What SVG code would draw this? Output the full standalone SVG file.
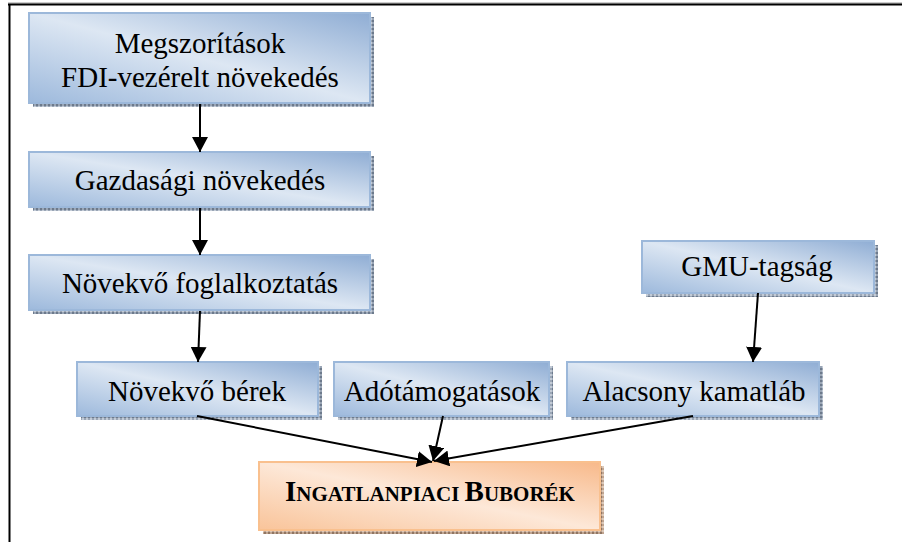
<svg xmlns="http://www.w3.org/2000/svg" width="902" height="542" viewBox="0 0 902 542">
<style>
text{font-family:'Liberation Serif','Times New Roman','DejaVu Serif',serif;fill:#000;text-anchor:middle}
.t{font-size:29px}
.b{font-weight:bold}
.box{fill:url(#gb);stroke:#9cb8da;stroke-width:2}
.obox{fill:url(#go);stroke:#f9c08e;stroke-width:2}
.sh{fill:url(#hb)}
.osh{fill:url(#ho)}
.e{stroke:#000;stroke-width:2;fill:none;marker-end:url(#ah)}
</style>
<defs>
<linearGradient id="gb" x1="1" y1="0" x2="0" y2="1">
<stop offset="0" stop-color="#8fadd4"/>
<stop offset="0.5" stop-color="#dde7f3"/>
<stop offset="1" stop-color="#9db9dc"/>
</linearGradient>
<linearGradient id="go" x1="1" y1="0" x2="0" y2="1">
<stop offset="0" stop-color="#f8b98a"/>
<stop offset="0.5" stop-color="#fde8d8"/>
<stop offset="1" stop-color="#f9c49a"/>
</linearGradient>
<pattern id="hb" width="4" height="4" patternUnits="userSpaceOnUse">
<rect width="4" height="4" fill="#9aa6b6"/>
<rect width="2" height="2" fill="#6d7a8c"/>
<rect x="2" y="2" width="2" height="2" fill="#c3cbd6"/>
</pattern>
<pattern id="ho" width="4" height="4" patternUnits="userSpaceOnUse">
<rect width="4" height="4" fill="#bfa490"/>
<rect width="2" height="2" fill="#8f7563"/>
<rect x="2" y="2" width="2" height="2" fill="#dcc8b8"/>
</pattern>
<marker id="ah" viewBox="0 0 15 16" refX="15" refY="8" markerWidth="15" markerHeight="16" markerUnits="userSpaceOnUse" orient="auto">
<path d="M0,0 L15,8 L0,16 z" fill="#000"/>
</marker>
</defs>
<rect width="902" height="542" fill="#fff"/>
<g id="frame">
<line x1="8" y1="3" x2="902" y2="3" stroke="#999" stroke-width="1"/>
<line x1="8" y1="4.5" x2="902" y2="4.5" stroke="#000" stroke-width="2"/>
<line x1="9.5" y1="4" x2="9.5" y2="542" stroke="#000" stroke-width="2"/>
</g>
<g id="n1">
<rect class="sh" x="33" y="17" width="341" height="90"/>
<rect class="box" x="29" y="13" width="341" height="90"/>
<text class="t" x="200" y="53">Megszorítások</text>
<text class="t" x="200" y="87">FDI-vezérelt növekedés</text>
</g>
<g id="n2">
<rect class="sh" x="33" y="156" width="341" height="55"/>
<rect class="box" x="29" y="152" width="341" height="55"/>
<text class="t" x="200" y="190">Gazdasági növekedés</text>
</g>
<g id="n3">
<rect class="sh" x="33" y="259" width="341" height="55"/>
<rect class="box" x="29" y="255" width="341" height="55"/>
<text class="t" x="200" y="293">Növekvő foglalkoztatás</text>
</g>
<g id="n4">
<rect class="sh" x="646" y="245" width="232" height="52"/>
<rect class="box" x="642" y="241" width="232" height="52"/>
<text class="t" x="757" y="276">GMU-tagság</text>
</g>
<g id="n5">
<rect class="sh" x="81" y="366" width="241" height="54"/>
<rect class="box" x="77" y="362" width="241" height="54"/>
<text class="t" x="197" y="401">Növekvő bérek</text>
</g>
<g id="n6">
<rect class="sh" x="338" y="366" width="215" height="54"/>
<rect class="box" x="334" y="362" width="215" height="54"/>
<text class="t" x="442" y="401">Adótámogatások</text>
</g>
<g id="n7">
<rect class="sh" x="571" y="366" width="252" height="54"/>
<rect class="box" x="567" y="362" width="252" height="54"/>
<text class="t" x="694" y="401">Alacsony kamatláb</text>
</g>
<g id="n8">
<rect class="osh" x="263" y="466" width="341" height="68"/>
<rect class="obox" x="259" y="462" width="341" height="68"/>
<text class="b" x="430" y="501"><tspan font-size="29px">I</tspan><tspan font-size="21px">NGATLANPIACI </tspan><tspan font-size="29px">B</tspan><tspan font-size="21px">UBORÉK</tspan></text>
</g>
<g id="edges">
<line class="e" x1="200" y1="104" x2="200" y2="152"/>
<line class="e" x1="200" y1="208" x2="200" y2="255"/>
<line class="e" x1="200" y1="311" x2="198" y2="362"/>
<line class="e" x1="758" y1="293" x2="753" y2="362"/>
<line class="e" x1="197" y1="416" x2="432" y2="462"/>
<line class="e" x1="443" y1="416" x2="433" y2="461"/>
<line class="e" x1="693" y1="416" x2="434" y2="461"/>
</g>
</svg>
